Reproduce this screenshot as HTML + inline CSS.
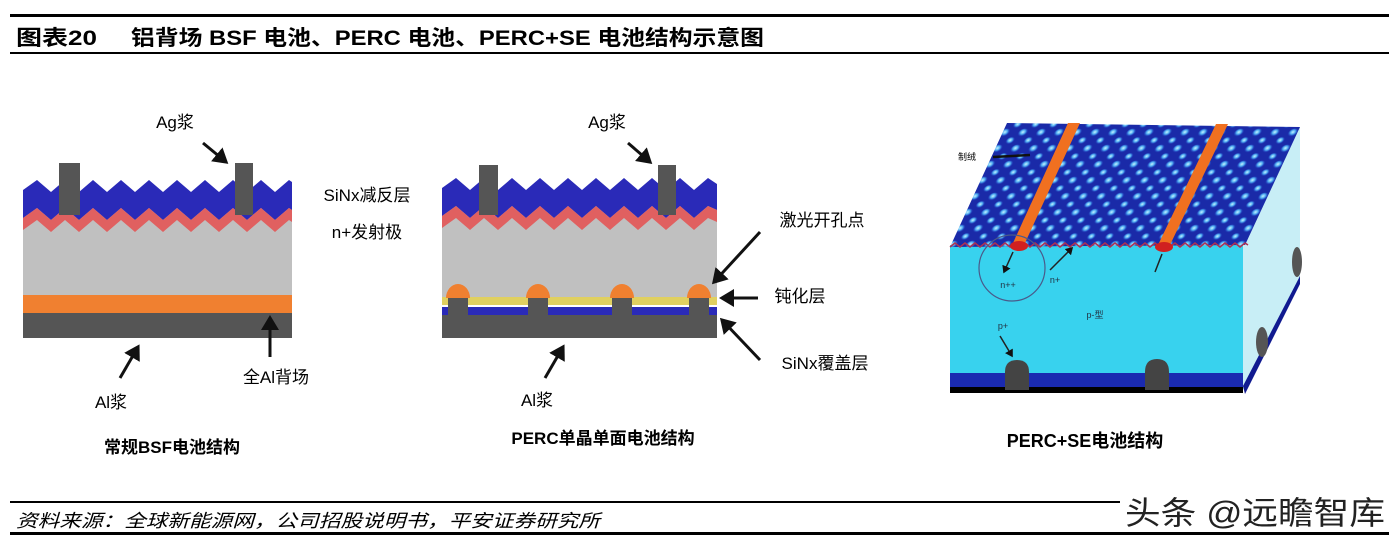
<!DOCTYPE html>
<html><head><meta charset="utf-8"><style>
body{margin:0;background:#fff;}
svg{display:block;font-family:"Liberation Sans","Noto Sans CJK SC",sans-serif;}
</style></head><body>
<svg width="1399" height="547" viewBox="0 0 1399 547" xmlns="http://www.w3.org/2000/svg">
<defs>
<marker id="ah" markerWidth="6" markerHeight="6" refX="4" refY="3" orient="auto" markerUnits="strokeWidth">
<path d="M0,0 L5,3 L0,6 Z" fill="#111"/></marker>
<radialGradient id="blob" cx="0.45" cy="0.4" r="0.5">
<stop offset="0" stop-color="#c8f4ff"/><stop offset="0.5" stop-color="#4aa8f0"/><stop offset="1" stop-color="#2040c8" stop-opacity="0"/></radialGradient>
<pattern id="tex" width="18" height="16" patternUnits="userSpaceOnUse" patternTransform="skewX(-25)">
<rect width="18" height="16" fill="#1a2aa8"/>
<ellipse cx="5" cy="5" rx="5" ry="4.5" fill="url(#blob)"/>
<ellipse cx="14" cy="13" rx="4.5" ry="4" fill="url(#blob)"/>
</pattern>
</defs>
<!-- header -->
<rect x="10" y="14" width="1379" height="3" fill="#000"/>
<text x="16" y="45" font-size="21" font-weight="bold" textLength="81" lengthAdjust="spacingAndGlyphs">图表20</text>
<text x="131" y="45" font-size="21" font-weight="bold" textLength="633" lengthAdjust="spacingAndGlyphs">铝背场 BSF 电池、PERC 电池、PERC+SE 电池结构示意图</text>
<rect x="10" y="52" width="1379" height="2" fill="#000"/>

<!-- Panel 1 -->
<g>
<rect x="23" y="200" width="269" height="138" fill="#c0c0c0"/>
<path d="M23,200 L23,190 L37,180 L51,192 L65,180 L79,192 L93,180 L107,192 L121,180 L135,192 L149,180 L163,192 L177,180 L191,192 L205,180 L219,192 L233,180 L247,192 L261,180 L275,192 L289,180 L292,182 L292,210 L289,208 L275,220 L261,208 L247,220 L233,208 L219,220 L205,208 L191,220 L177,208 L163,220 L149,208 L135,220 L121,208 L107,220 L93,208 L79,220 L65,208 L51,220 L37,208 L23,218 Z" fill="#2a2ab8"/>
<path d="M23,218 L37,208 L51,220 L65,208 L79,220 L93,208 L107,220 L121,208 L135,220 L149,208 L163,220 L177,208 L191,220 L205,208 L219,220 L233,208 L247,220 L261,208 L275,220 L289,208 L292,210 L292,222 L289,220 L275,232 L261,220 L247,232 L233,220 L219,232 L205,220 L191,232 L177,220 L163,232 L149,220 L135,232 L121,220 L107,232 L93,220 L79,232 L65,220 L51,232 L37,220 L23,230 Z" fill="#e06060"/>
<rect x="59" y="163" width="21" height="52" fill="#555"/>
<rect x="235" y="163" width="18" height="52" fill="#555"/>
<rect x="23" y="295" width="269" height="18" fill="#f08030"/>
<rect x="23" y="313" width="269" height="25" fill="#555"/>
<text x="175" y="128" font-size="17" text-anchor="middle">Ag浆</text>
<line x1="203" y1="143" x2="226" y2="162" stroke="#111" stroke-width="3" marker-end="url(#ah)"/>
<text x="367" y="201" font-size="17" text-anchor="middle">SiNx减反层</text>
<text x="367" y="238" font-size="17" text-anchor="middle">n+发射极</text>
<line x1="270" y1="357" x2="270" y2="318" stroke="#111" stroke-width="3" marker-end="url(#ah)"/>
<text x="276" y="383" font-size="17" text-anchor="middle">全Al背场</text>
<line x1="120" y1="378" x2="138" y2="347" stroke="#111" stroke-width="3" marker-end="url(#ah)"/>
<text x="111" y="408" font-size="17" text-anchor="middle">Al浆</text>
<text x="172" y="453" font-size="17" text-anchor="middle" font-weight="bold">常规BSF电池结构</text>
</g>

<!-- Panel 2 -->
<g>
<rect x="442" y="200" width="275" height="105" fill="#c0c0c0"/>
<path d="M442,200 L442,188 L456,178 L470,190 L484,178 L498,190 L512,178 L526,190 L540,178 L554,190 L568,178 L582,190 L596,178 L610,190 L624,178 L638,190 L652,178 L666,190 L680,178 L694,190 L708,178 L717,184 L717,210 L708,206 L694,218 L680,206 L666,218 L652,206 L638,218 L624,206 L610,218 L596,206 L582,218 L568,206 L554,218 L540,206 L526,218 L512,206 L498,218 L484,206 L470,218 L456,206 L442,216 Z" fill="#2a2ab8"/>
<path d="M442,216 L456,206 L470,218 L484,206 L498,218 L512,206 L526,218 L540,206 L554,218 L568,206 L582,218 L596,206 L610,218 L624,206 L638,218 L652,206 L666,218 L680,206 L694,218 L708,206 L717,210 L717,222 L708,218 L694,230 L680,218 L666,230 L652,218 L638,230 L624,218 L610,230 L596,218 L582,230 L568,218 L554,230 L540,218 L526,230 L512,218 L498,230 L484,218 L470,230 L456,218 L442,228 Z" fill="#e06060"/>
<rect x="479" y="165" width="19" height="50" fill="#555"/>
<rect x="658" y="165" width="18" height="50" fill="#555"/>
<rect x="442" y="297" width="275" height="8" fill="#e0d060"/>
<rect x="442" y="307" width="275" height="8" fill="#2a2ab8"/>
<rect x="442" y="315" width="275" height="23" fill="#555"/>
<g fill="#555">
<rect x="448" y="297" width="20" height="18"/><rect x="528" y="297" width="20" height="18"/>
<rect x="612" y="297" width="20" height="18"/><rect x="689" y="297" width="20" height="18"/></g>
<g fill="#f08030">
<path d="M446,298 A12,14 0 0 1 470,298 Z"/><path d="M526,298 A12,14 0 0 1 550,298 Z"/>
<path d="M610,298 A12,14 0 0 1 634,298 Z"/><path d="M687,298 A12,14 0 0 1 711,298 Z"/></g>
<text x="607" y="128" font-size="17" text-anchor="middle">Ag浆</text>
<line x1="628" y1="143" x2="650" y2="162" stroke="#111" stroke-width="3" marker-end="url(#ah)"/>
<text x="822" y="226" font-size="17" text-anchor="middle">激光开孔点</text>
<line x1="760" y1="232" x2="714" y2="282" stroke="#111" stroke-width="3" marker-end="url(#ah)"/>
<text x="800" y="302" font-size="17" text-anchor="middle">钝化层</text>
<line x1="758" y1="298" x2="722" y2="298" stroke="#111" stroke-width="3" marker-end="url(#ah)"/>
<text x="825" y="369" font-size="17" text-anchor="middle">SiNx覆盖层</text>
<line x1="760" y1="360" x2="722" y2="320" stroke="#111" stroke-width="3" marker-end="url(#ah)"/>
<line x1="545" y1="378" x2="563" y2="347" stroke="#111" stroke-width="3" marker-end="url(#ah)"/>
<text x="537" y="406" font-size="17" text-anchor="middle">Al浆</text>
<text x="603" y="444" font-size="17" text-anchor="middle" font-weight="bold">PERC单晶单面电池结构</text>
</g>

<!-- Panel 3 -->
<g>
<polygon points="1243,247 1300,127 1300,280 1243,390" fill="#c8eef6"/>
<polygon points="1243,386 1300,276 1300,284 1245,394" fill="#101a90"/>
<rect x="950" y="245" width="293" height="148" fill="#38d2ee"/>
<rect x="950" y="373" width="293" height="14" fill="#1a2ab0"/>
<rect x="950" y="387" width="293" height="6" fill="#000"/>
<polygon points="1007,123 1300,127 1245,245 950,247" fill="url(#tex)"/>
<path d="M950,247 l5,-4 l5,4 l5,-4 l5,4 l5,-4 l5,4 l5,-4 l5,4 l5,-4 l5,4 l5,-4 l5,4 l5,-4 l5,4 l5,-4 l5,4 l5,-4 l5,4 l5,-4 l5,4 l5,-4 l5,4 l5,-4 l5,4 l5,-4 l5,4 l5,-4 l5,4 l5,-4 l5,4 l5,-4 l5,4 l5,-4 l5,4 l5,-4 l5,4 l5,-4 l5,4 l5,-4 l5,4 l5,-4 l5,4 l5,-4 l5,4 l5,-4 l5,4 l5,-4 l5,4 l5,-4 l5,4 l5,-4 l5,4 l5,-4 l5,4 l5,-4 l5,4 l5,-4 l5,4 l5,-4 l3,2" fill="none" stroke="#b03050" stroke-width="1.5"/>
<polygon points="1068,123 1080,123 1025,243 1013,243" fill="#f07020"/>
<polygon points="1216,124 1228,124 1170,245 1158,245" fill="#f07020"/>
<ellipse cx="1019" cy="246" rx="9" ry="5" fill="#d02020"/>
<ellipse cx="1164" cy="247" rx="9" ry="5" fill="#d02020"/>
<circle cx="1012" cy="268" r="33" fill="none" stroke="#4a5a8a" stroke-width="1.2"/>
<line x1="1013" y1="252" x2="1004" y2="272" stroke="#222" stroke-width="1.5" marker-end="url(#ah)"/>
<line x1="1155" y1="272" x2="1162" y2="254" stroke="#222" stroke-width="1.5"/>
<line x1="1050" y1="270" x2="1072" y2="248" stroke="#222" stroke-width="1.5" marker-end="url(#ah)"/>
<line x1="1000" y1="336" x2="1012" y2="356" stroke="#222" stroke-width="1.5" marker-end="url(#ah)"/>
<path d="M1005,390 L1005,372 Q1005,360 1017,360 Q1029,360 1029,372 L1029,390 Z" fill="#444"/>
<path d="M1145,390 L1145,372 Q1145,359 1157,359 Q1169,359 1169,372 L1169,390 Z" fill="#444"/>
<ellipse cx="1262" cy="342" rx="6" ry="15" fill="#555"/>
<ellipse cx="1297" cy="262" rx="5" ry="15" fill="#555"/>
<line x1="993" y1="157" x2="1030" y2="155" stroke="#111" stroke-width="2.5"/>
<text x="967" y="160" font-size="9" text-anchor="middle">制绒</text>
<text x="1008" y="288" font-size="9" text-anchor="middle" fill="#234">n++</text>
<text x="1055" y="283" font-size="9" text-anchor="middle" fill="#234">n+</text>
<text x="1095" y="318" font-size="9" text-anchor="middle" fill="#234">p-型</text>
<text x="1003" y="329" font-size="9" text-anchor="middle" fill="#234">p+</text>
<text x="1085" y="447" font-size="18" text-anchor="middle" font-weight="bold">PERC+SE电池结构</text>
</g>

<!-- footer -->
<rect x="10" y="501" width="1379" height="2" fill="#000"/>
<text x="16" y="527" font-size="18" font-style="italic" textLength="584" lengthAdjust="spacingAndGlyphs">资料来源：全球新能源网，公司招股说明书，平安证券研究所</text>
<rect x="10" y="532" width="1379" height="3" fill="#000"/>
<rect x="1120" y="490" width="270" height="38" fill="#fff"/>
<text x="1125" y="524" font-size="32" fill="#222" textLength="260" lengthAdjust="spacingAndGlyphs">头条 @远瞻智库</text>
</svg>
</body></html>
